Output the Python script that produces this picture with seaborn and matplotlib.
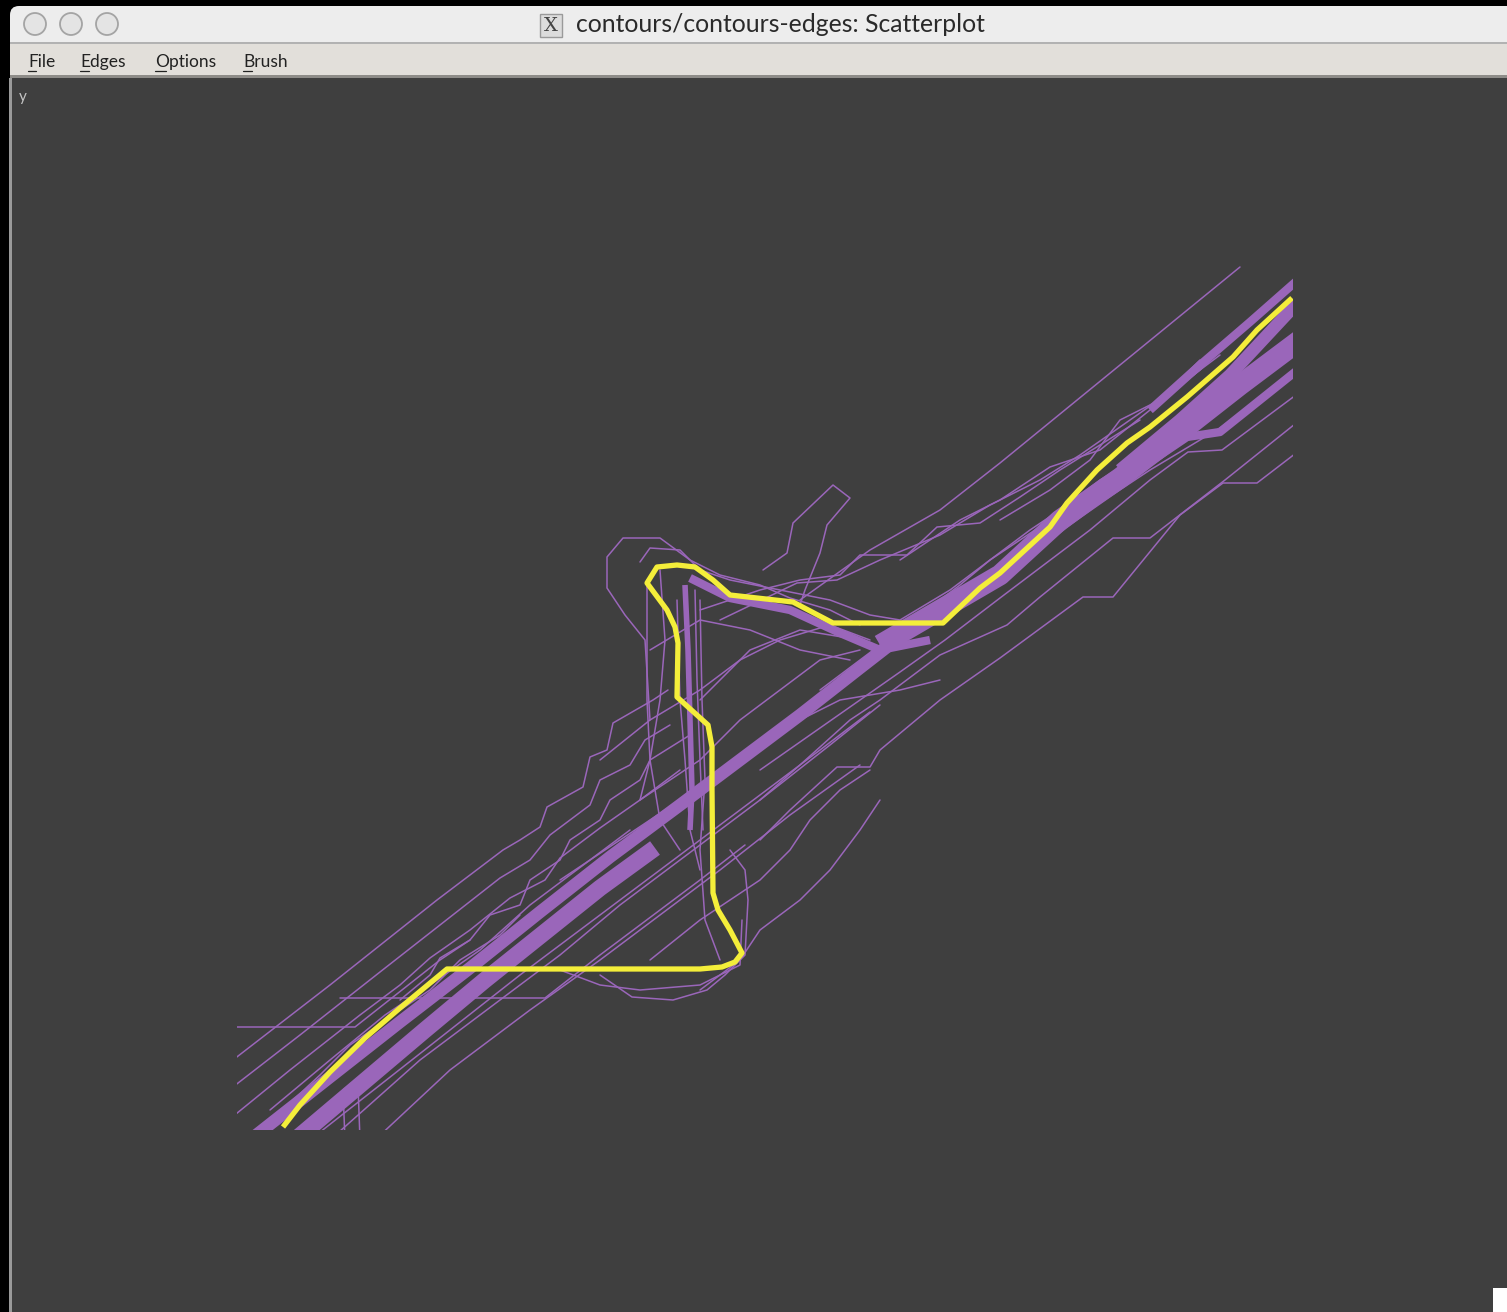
import matplotlib
matplotlib.use("Agg")
import matplotlib.pyplot as plt
from matplotlib.patches import Rectangle, FancyBboxPatch, Circle
import pandas as pd
import seaborn as sns

sns.set_theme(style="white")
plt.rcParams["font.family"] = ["Lato", "DejaVu Sans"]

# ---------------------------------------------------------------- data
# highlighted contour (brushed edge set)
yellow_x = [83, 100, 130, 165, 200, 247, 500, 522, 535, 542, 530, 518, 513, 512, 512, 508,
            477, 478, 475, 467, 447, 457, 477, 495, 513, 530, 593, 633, 743, 780, 800, 850,
            867, 897, 927, 950, 987, 1033, 1057, 1092]
yellow_y = [73, 95, 128, 162, 192, 231, 231, 233, 238, 247, 270, 290, 307, 410, 453, 475,
            503, 557, 573, 590, 617, 633, 635, 633, 620, 605, 598, 577, 577, 612, 627, 673,
            697, 730, 757, 773, 803, 843, 870, 902]

# dense bundles of nearly coincident contour edges
band_a_core_x = [50, 130, 200, 270, 340, 410, 480, 540, 600, 660, 705]
band_a_core_y = [60, 123, 178, 232, 288, 343, 395, 440, 485, 532, 567]
band_a_wide_x = [95, 160, 225, 285, 345, 400, 455]
band_a_wide_y = [60, 115, 170, 220, 268, 312, 352]
band_b_core_x = [680, 740, 800, 860, 920, 980, 1040, 1100]
band_b_core_y = [555, 590, 625, 680, 722, 768, 815, 860]
band_b_top_x = [950, 1000, 1050, 1100]
band_b_top_y = [790, 835, 878, 922]
band_b_upper_x = [920, 980, 1030, 1100]
band_b_upper_y = [730, 780, 825, 900]
band_b_lower_x = [900, 950, 987, 1020, 1100]
band_b_lower_y = [705, 738, 763, 768, 832]
band_c_x = [490, 530, 590, 640, 680, 730]
band_c_y = [622, 602, 590, 567, 550, 560]
band_d_x = [485, 488, 490, 492, 490]
band_d_y = [615, 550, 480, 410, 370]

# individual contour edges
e01_x = [20, 130, 237, 303, 320, 340, 347, 383, 390, 407, 413, 453, 468]
e01_y = [130, 215, 300, 350, 360, 373, 393, 413, 443, 450, 477, 500, 510]
e02_x = [20, 100, 180, 240, 300, 330, 350, 390, 400, 430, 445, 470]
e02_y = [103, 165, 228, 275, 322, 340, 365, 395, 420, 435, 460, 475]
e03_x = [20, 90, 160, 200, 230, 270, 310, 345, 360, 400, 440, 480]
e03_y = [73, 130, 185, 215, 242, 270, 302, 320, 342, 372, 400, 430]
e04_x = [20, 155, 240, 270]
e04_y = [173, 173, 240, 260]
e05_x = [140, 345, 400, 440, 500, 545]
e05_y = [202, 202, 245, 275, 320, 355]
e06_x = [130, 220, 300, 360, 420, 500, 560, 630, 680]
e06_y = [60, 140, 200, 245, 295, 355, 400, 455, 495]
e07_x = [175, 250, 330, 400, 460, 520, 590, 660]
e07_y = [60, 130, 190, 240, 285, 330, 385, 435]
e08_x = [160, 158, 200]
e08_y = [60, 115, 150]
e09_x = [145, 143, 180]
e09_y = [60, 110, 140]
e10_x = [400, 432, 473, 507, 525, 545, 548, 545, 530]
e10_y = [225, 203, 200, 210, 225, 245, 300, 330, 350]
e11_x = [360, 400, 440, 500, 540, 542]
e11_y = [230, 215, 210, 215, 235, 280]
e12_x = [450, 445, 425, 407, 407, 423, 460, 490, 520, 560, 590, 630, 660]
e12_y = [480, 560, 585, 612, 643, 662, 662, 640, 625, 615, 602, 590, 575]
e13_x = [440, 450, 480, 500, 530, 580, 630, 670, 700, 750, 790, 830, 860]
e13_y = [638, 652, 650, 630, 620, 610, 600, 585, 580, 610, 640, 670, 690]
e14_x = [500, 560, 600, 640, 660, 707, 737, 780, 820, 860, 900, 940]
e14_y = [590, 610, 620, 625, 645, 645, 673, 677, 703, 730, 755, 780]
e15_x = [520, 597, 637, 680, 740, 790, 840, 880, 930, 980, 1020]
e15_y = [580, 617, 620, 640, 665, 695, 720, 745, 780, 815, 845]
e16_x = [600, 670, 740, 800, 1040]
e16_y = [600, 650, 690, 737, 933]
e17_x = [563, 587, 593, 633, 650, 627, 620, 605, 600]
e17_y = [630, 647, 677, 715, 702, 675, 647, 610, 595]
e18_x = [1100, 1022, 988, 950, 890, 800, 745, 700, 660, 610, 560]
e18_y = [808, 750, 748, 720, 670, 602, 560, 528, 500, 465, 430]
e19_x = [1100, 1025, 950, 913, 840, 807, 740, 680, 650, 600, 560]
e19_y = [780, 720, 662, 662, 603, 575, 545, 500, 480, 435, 400]
e20_x = [1100, 1057, 1023, 980, 913, 883, 800, 740, 680, 670, 637, 590, 560]
e20_y = [750, 717, 717, 685, 603, 603, 542, 500, 450, 433, 433, 390, 360]
e21_x = [1100, 1020, 950, 897, 850, 800, 760, 730]
e21_y = [832, 772, 730, 695, 660, 625, 600, 580]
e22_x = [910, 850, 790, 760, 700, 660, 620]
e22_y = [720, 680, 640, 615, 570, 540, 510]
e23_x = [400, 450, 500, 540, 580, 630, 670]
e23_y = [440, 480, 510, 540, 560, 575, 560]
e24_x = [440, 500, 540, 580, 620, 660]
e24_y = [400, 440, 480, 510, 540, 550]
e25_x = [360, 420, 480, 520, 560, 600, 640, 700, 740]
e25_y = [320, 360, 400, 430, 460, 480, 500, 510, 520]
e26_x = [450, 500, 560, 590, 610, 640, 670]
e26_y = [240, 280, 320, 350, 380, 410, 430]
e27_x = [500, 540, 560, 600, 630, 660, 680]
e27_y = [210, 240, 270, 300, 330, 370, 400]
e28_x = [447, 447, 450, 460, 480]
e28_y = [620, 500, 440, 380, 350]
e29_x = [500, 502, 505, 500, 505, 520]
e29_y = [600, 500, 420, 350, 280, 240]
e30_x = [200, 230, 240, 270, 290, 320, 330, 360, 370, 400, 410, 440, 450, 490]
e30_y = [200, 225, 242, 260, 285, 295, 320, 340, 360, 380, 400, 420, 440, 465]
e31_x = [50, 120, 150, 200, 230, 260, 300, 320]
e31_y = [60, 125, 155, 190, 210, 240, 265, 285]
e32_x = [700, 760, 800, 850, 900, 950, 1000, 1050, 1093]
e32_y = [640, 680, 700, 733, 750, 790, 830, 880, 915]
e33_x = [800, 850, 890, 920, 960, 1000]
e33_y = [680, 710, 740, 780, 800, 840]
e34_x = [45, 120, 180, 250, 320, 380, 440, 500, 560, 630, 680]
e34_y = [60, 120, 168, 220, 275, 322, 365, 410, 455, 510, 545]
e35_x = [110, 180, 250, 320, 380, 440, 500, 560, 620, 670]
e35_y = [60, 115, 170, 225, 270, 315, 360, 405, 450, 488]
e36_x = [100, 150, 210, 270, 330, 360, 400, 450, 490]
e36_y = [100, 140, 190, 238, 285, 305, 340, 375, 405]
e37_x = [70, 130, 185, 230, 280, 330, 390, 430]
e37_y = [90, 140, 185, 215, 250, 295, 340, 370]
e38_x = [440, 500, 570, 630, 680, 740]
e38_y = [368, 412, 465, 510, 548, 588]
e39_x = [477, 480, 485, 490, 500]
e39_y = [600, 500, 440, 370, 330]
e40_x = [495, 497, 500, 503]
e40_y = [610, 520, 440, 370]
e41_x = [460, 465, 460, 450, 440]
e41_y = [630, 560, 500, 440, 400]
e42_x = [450, 500, 550, 600, 650]
e42_y = [550, 580, 570, 550, 540]
e43_x = [500, 550, 600, 660]
e43_y = [500, 550, 570, 560]
e44_x = [1100, 1040, 980, 940, 900, 860]
e44_y = [870, 820, 775, 745, 720, 690]

x_range = (37, 1093)
y_range = (70, 935)

thin_edges = {
    "e01": (e01_x, e01_y), "e02": (e02_x, e02_y), "e03": (e03_x, e03_y),
    "e04": (e04_x, e04_y), "e05": (e05_x, e05_y), "e06": (e06_x, e06_y),
    "e07": (e07_x, e07_y), "e08": (e08_x, e08_y), "e09": (e09_x, e09_y),
    "e10": (e10_x, e10_y), "e11": (e11_x, e11_y), "e12": (e12_x, e12_y),
    "e13": (e13_x, e13_y), "e14": (e14_x, e14_y), "e15": (e15_x, e15_y),
    "e16": (e16_x, e16_y), "e17": (e17_x, e17_y), "e18": (e18_x, e18_y),
    "e19": (e19_x, e19_y), "e20": (e20_x, e20_y), "e21": (e21_x, e21_y),
    "e22": (e22_x, e22_y), "e23": (e23_x, e23_y), "e24": (e24_x, e24_y),
    "e25": (e25_x, e25_y), "e26": (e26_x, e26_y), "e27": (e27_x, e27_y),
    "e28": (e28_x, e28_y), "e29": (e29_x, e29_y), "e30": (e30_x, e30_y),
    "e31": (e31_x, e31_y), "e32": (e32_x, e32_y), "e33": (e33_x, e33_y),
    "e34": (e34_x, e34_y), "e35": (e35_x, e35_y), "e36": (e36_x, e36_y),
    "e37": (e37_x, e37_y), "e38": (e38_x, e38_y), "e39": (e39_x, e39_y),
    "e40": (e40_x, e40_y), "e41": (e41_x, e41_y), "e42": (e42_x, e42_y),
    "e43": (e43_x, e43_y), "e44": (e44_x, e44_y),
}
# bundle -> (x, y, line width in points)
bands = {
    "a_wide": (band_a_wide_x, band_a_wide_y, 12.0),
    "a_core": (band_a_core_x, band_a_core_y, 9.0),
    "b_core": (band_b_core_x, band_b_core_y, 15.0),
    "b_top": (band_b_top_x, band_b_top_y, 6.0),
    "b_upper": (band_b_upper_x, band_b_upper_y, 9.0),
    "b_lower": (band_b_lower_x, band_b_lower_y, 6.0),
    "c": (band_c_x, band_c_y, 6.0),
    "d": (band_d_x, band_d_y, 4.0),
}


def to_frame(paths):
    rows = []
    for name, (xs, ys) in paths.items():
        for i, (a, b) in enumerate(zip(xs, ys)):
            rows.append((name, i, a, b))
    return pd.DataFrame(rows, columns=["edge", "order", "x", "y"])


PURPLE = "#9a66ba"
YELLOW = "#f4ee3a"
PLOT_BG = "#3f3f3f"

W, H = 1507, 1312
fig = plt.figure(figsize=(W / 100, H / 100), dpi=100, facecolor="black")

# ---------------------------------------------------------------- window frame
chrome = fig.add_axes([0, 0, 1, 1], zorder=0)
chrome.set_xlim(0, W)
chrome.set_ylim(H, 0)
chrome.axis("off")

chrome.add_patch(FancyBboxPatch((10, 6), W + 40, 70, boxstyle="round,pad=0,rounding_size=9",
                                fc="#ededed", ec="none"))
chrome.add_patch(Rectangle((10, 42), W, 2, fc="#b2b2b2", ec="none"))
chrome.add_patch(Rectangle((10, 44), W, 32, fc="#e2dfda", ec="none"))
chrome.add_patch(Rectangle((10, 75), W, 3, fc="#8e8c88", ec="none"))
chrome.add_patch(Rectangle((10, 78), W, H - 78, fc=PLOT_BG, ec="none"))
chrome.add_patch(Rectangle((9, 78), 3, H - 78, fc="#9a9a9a", ec="none"))

for cx in (35, 71, 107):
    chrome.add_patch(Circle((cx, 24), 11, fc="#e4e4e4", ec="#a4a4a4", lw=1.3))

chrome.add_patch(Rectangle((540, 14), 22, 23, fc="#dcdcdc", ec="#9a9a9a", lw=1))
chrome.text(551, 26, "X", ha="center", va="center", fontsize=14, color="#444444",
            family=["DejaVu Serif"])
chrome.text(780, 25, "contours/contours-edges: Scatterplot", ha="center", va="center",
            fontsize=17.8, color="#2a2a2a")

for label, x0, uw in (("File", 28, 8), ("Edges", 80, 9), ("Options", 155, 11), ("Brush", 243, 9)):
    chrome.text(x0, 62, label, ha="left", va="center", fontsize=12.5, color="#222222")
    chrome.plot([x0, x0 + uw], [71, 71], color="#222222", lw=0.9)

chrome.text(19, 97, "y", ha="left", va="center", fontsize=11, color="#c4c4c4")
chrome.add_patch(Rectangle((1493, 1288), 16, 26, fc="white", ec="none"))

# ---------------------------------------------------------------- scatterplot edges
ax = fig.add_axes([237 / W, (H - 1130) / H, 1056 / W, 865 / H], zorder=1)
ax.patch.set_alpha(0)

thin_df = to_frame(thin_edges)
sns.lineplot(data=thin_df, x="x", y="y", units="edge", estimator=None, sort=False,
             color=PURPLE, linewidth=1.1, ax=ax, legend=False)

for name, (xs, ys, lw) in bands.items():
    band_df = to_frame({name: (xs, ys)})
    sns.lineplot(data=band_df, x="x", y="y", units="edge", estimator=None, sort=False,
                 color=PURPLE, linewidth=lw, ax=ax, legend=False,
                 solid_capstyle="butt", solid_joinstyle="round")

yellow_df = pd.DataFrame({"x": yellow_x, "y": yellow_y, "edge": "brushed"})
sns.lineplot(data=yellow_df, x="x", y="y", units="edge", estimator=None, sort=False,
             color=YELLOW, linewidth=3.8, ax=ax, legend=False,
             solid_capstyle="butt", solid_joinstyle="round")

ax.set_xlim(*x_range)
ax.set_ylim(*y_range)
ax.axis("off")

fig.savefig("out.png", dpi=100, facecolor="black")
